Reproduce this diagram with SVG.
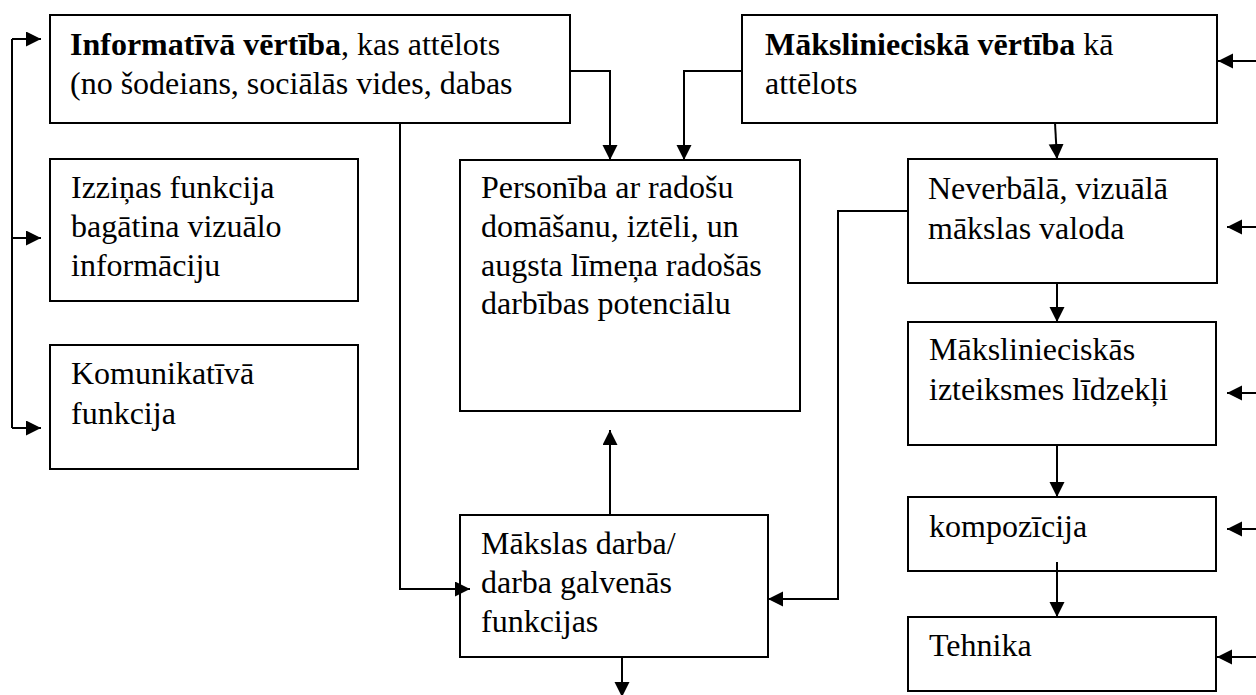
<svg xmlns="http://www.w3.org/2000/svg" width="1256" height="695" viewBox="0 0 1256 695">
<style>
.box{fill:#fff;stroke:#000;stroke-width:2}
.t{font-family:"Liberation Serif","Times New Roman",serif;font-size:32px;fill:#000}
.b{font-weight:bold}
.c{fill:none;stroke:#000;stroke-width:2;marker-end:url(#ah)}
.l{fill:none;stroke:#000;stroke-width:2}
</style>
<defs>
<marker id="ah" markerUnits="userSpaceOnUse" markerWidth="16" markerHeight="16" refX="15" refY="7.5" orient="auto">
<path d="M0,0 L15,7.5 L0,15 z" fill="#000"/>
</marker>
</defs>
<rect width="1256" height="695" fill="#fff"/>
<g id="n-informativa">
<rect class="box" x="50" y="15" width="520" height="108"/>
<text class="t" x="70" y="55"><tspan class="b">Informatīvā vērtība</tspan>, kas attēlots</text>
<text class="t" x="70" y="94">(no šodeians, sociālās vides, dabas</text>
</g>
<g id="n-izzinas">
<rect class="box" x="50" y="159" width="308" height="142"/>
<text class="t" x="71" y="198">Izziņas funkcija</text>
<text class="t" x="71" y="237">bagātina vizuālo</text>
<text class="t" x="71" y="276">informāciju</text>
</g>
<g id="n-komunikativa">
<rect class="box" x="50" y="345" width="308" height="124"/>
<text class="t" x="71" y="384">Komunikatīvā</text>
<text class="t" x="71" y="424">funkcija</text>
</g>
<g id="n-personiba">
<rect class="box" x="460" y="160" width="340" height="251"/>
<text class="t" x="481" y="198">Personība ar radošu</text>
<text class="t" x="481" y="237">domāšanu, iztēli, un</text>
<text class="t" x="481" y="276">augsta līmeņa radošās</text>
<text class="t" x="481" y="314">darbības potenciālu</text>
</g>
<g id="n-makslas-darba">
<rect class="box" x="460" y="515" width="308" height="142"/>
<text class="t" x="481" y="554">Mākslas darba/</text>
<text class="t" x="481" y="593">darba galvenās</text>
<text class="t" x="481" y="632">funkcijas</text>
</g>
<g id="n-maksliniecika">
<rect class="box" x="742" y="15" width="475" height="108"/>
<text class="t" x="765" y="55"><tspan class="b">Mākslinieciskā vērtība</tspan> kā</text>
<text class="t" x="765" y="94">attēlots</text>
</g>
<g id="n-neverbala">
<rect class="box" x="908" y="159" width="309" height="124"/>
<text class="t" x="928" y="199">Neverbālā, vizuālā</text>
<text class="t" x="928" y="239">mākslas valoda</text>
</g>
<g id="n-izteiksmes">
<rect class="box" x="908" y="322" width="308" height="123"/>
<text class="t" x="929" y="360">Mākslinieciskās</text>
<text class="t" x="929" y="400">izteiksmes līdzekļi</text>
</g>
<g id="n-kompozicija">
<rect class="box" x="908" y="497" width="308" height="74"/>
<text class="t" x="929" y="537">kompozīcija</text>
</g>
<g id="n-tehnika">
<rect class="box" x="908" y="617" width="308" height="74"/>
<text class="t" x="929" y="656">Tehnika</text>
</g>
<g id="connectors">
<path class="l" d="M12,428 V39"/>
<path class="c" d="M12,39 H41"/>
<path class="c" d="M12,238 H41"/>
<path class="c" d="M12,428 H41"/>
<path class="c" d="M570,71 H610 V160"/>
<path class="c" d="M742,71 H684 V160"/>
<path class="c" d="M1256,61 H1218"/>
<path class="c" d="M1055,123 L1057,159"/>
<path class="c" d="M1256,227 H1227"/>
<path class="c" d="M1057,283 V322"/>
<path class="c" d="M1256,393 H1227"/>
<path class="c" d="M1057,445 V497"/>
<path class="c" d="M1256,529 H1227"/>
<path class="c" d="M1057,562 V617"/>
<path class="c" d="M1256,657 H1217"/>
<path class="c" d="M610,515 V430"/>
<path class="c" d="M400,123 V589 H470"/>
<path class="c" d="M908,211 H838 V599 H768"/>
<path class="c" d="M622,657 V697"/>
</g>
</svg>
